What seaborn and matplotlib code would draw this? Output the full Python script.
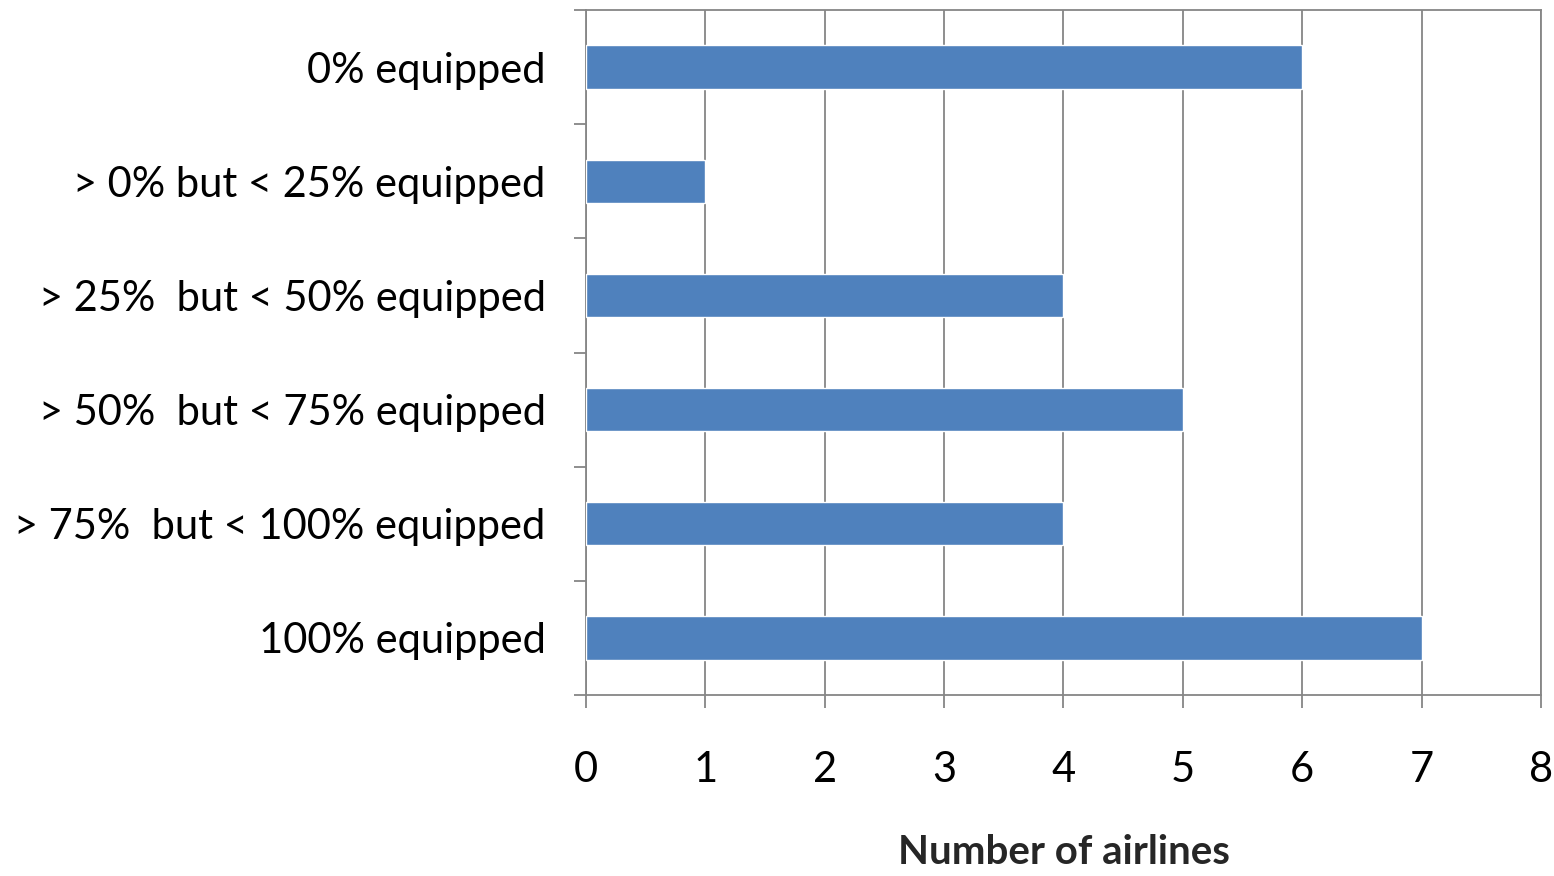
import matplotlib
matplotlib.use("Agg")
import matplotlib.pyplot as plt
import seaborn as sns
import pandas as pd
import numpy as np

categories = [
    "0% equipped",
    "> 0% but < 25% equipped",
    "> 25%  but < 50% equipped",
    "> 50%  but < 75% equipped",
    "> 75%  but < 100% equipped",
    "100% equipped",
]
airlines = [6, 1, 4, 5, 4, 7]
x_ticks = [0, 1, 2, 3, 4, 5, 6, 7, 8]

sns.set_theme(style="white")
plt.rcParams["font.family"] = ["Lato", "DejaVu Sans"]
plt.rcParams["text.color"] = "black"
plt.rcParams["xtick.labelcolor"] = "black"
plt.rcParams["ytick.labelcolor"] = "black"

df = pd.DataFrame({"category": categories, "airlines": airlines})

fig = plt.figure(figsize=(15.54, 8.76), dpi=100)
ax = fig.add_axes([0.3771, 0.2066, 0.9916 - 0.3771, 0.9886 - 0.2066])

sns.barplot(data=df, x="airlines", y="category", orient="h",
            color="#4F81BD", saturation=1, width=0.38, ax=ax, zorder=3)

ax.set_xlim(0, 8)
ax.set_ylim(len(categories) - 0.5, -0.5)
ax.set_xticks(x_ticks)
ax.set_xticklabels([str(t) for t in x_ticks], fontsize=30)
ax.xaxis.grid(True, color="#868686", linewidth=1.3, zorder=0)
ax.yaxis.grid(False)

# category labels, ticks between categories
ax.set_yticks(np.arange(len(categories)))
ax.set_yticklabels(categories, fontsize=30)
ax.set_yticks(np.arange(-0.5, len(categories)), minor=True)
ax.tick_params(axis="y", which="major", length=0, pad=29)
ax.tick_params(axis="y", which="minor", length=9, width=1.3, color="#868686", left=True)
ax.tick_params(axis="x", which="major", length=9, width=1.3, color="#868686", bottom=True, pad=31)

for side in ["left", "right", "top", "bottom"]:
    ax.spines[side].set_visible(True)
    ax.spines[side].set_color("#868686")
    ax.spines[side].set_linewidth(1.3)

ax.set_ylabel("")
ax.set_xlabel("Number of airlines", fontsize=29, fontweight="bold", labelpad=33)

fig.savefig("out.png", dpi=100, facecolor="white")
